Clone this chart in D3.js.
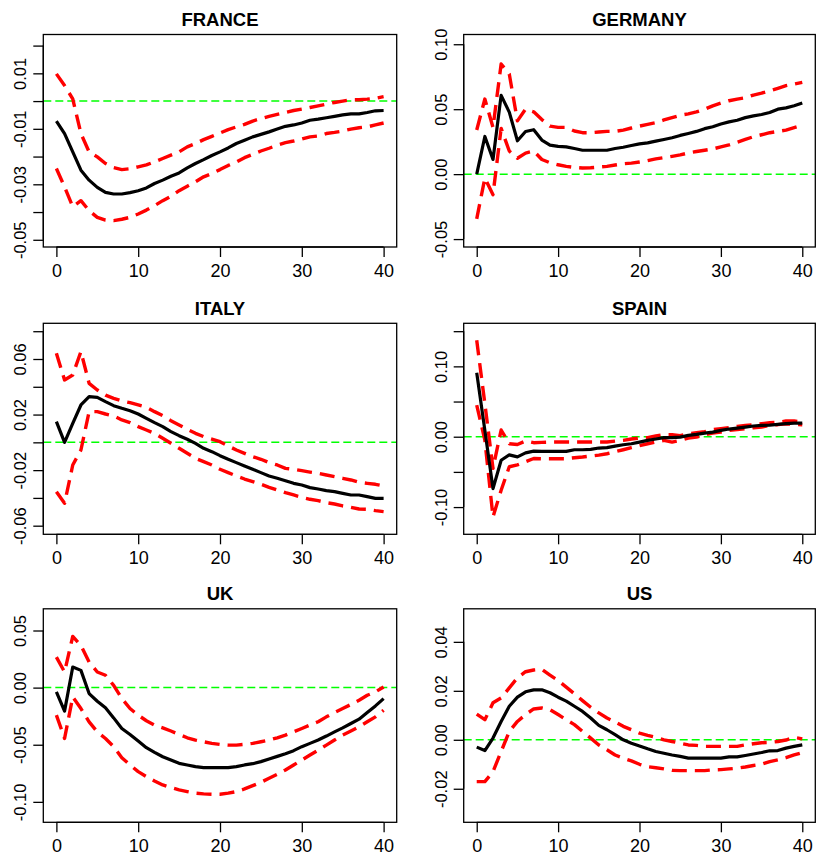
<!DOCTYPE html>
<html>
<head>
<meta charset="utf-8">
<script src="https://cdn.jsdelivr.net/npm/d3@7"></script>
<style>
  body { margin: 0; background: #fff; }
  svg text { font-family: "Liberation Sans", Arial, Helvetica, sans-serif; fill: #000; }
</style>
</head>
<body>
<svg id="chart" width="817" height="863"></svg>
<script>
// Impulse responses over a 40-quarter horizon, with upper/lower confidence bands
const horizons = d3.range(0, 41);
const xTicks = [0, 10, 20, 30, 40];

const franceIrf = [-0.0072,-0.0117,-0.0183,-0.0249,-0.0285,-0.0311,-0.0329,-0.0335,-0.0335,-0.033,-0.0323,-0.0313,-0.0297,-0.0285,-0.0271,-0.0259,-0.0241,-0.0225,-0.0211,-0.0196,-0.0183,-0.0169,-0.0153,-0.0141,-0.0129,-0.012,-0.0111,-0.0101,-0.0091,-0.0086,-0.0079,-0.0069,-0.0065,-0.006,-0.0055,-0.005,-0.0046,-0.0046,-0.0041,-0.0035,-0.0034];
const franceUpper = [0.0098,0.0056,0.0008,-0.0117,-0.0183,-0.0201,-0.0225,-0.024,-0.0247,-0.0244,-0.0237,-0.023,-0.0219,-0.0207,-0.0195,-0.0183,-0.0165,-0.0153,-0.0139,-0.0127,-0.0115,-0.0103,-0.0093,-0.0084,-0.0072,-0.0063,-0.0055,-0.0048,-0.0041,-0.0034,-0.0029,-0.0023,-0.0017,-0.0011,-0.0005,0,0.0005,0.0005,0.0007,0.001,0.0016];
const franceLower = [-0.0243,-0.0309,-0.0381,-0.0359,-0.0395,-0.0419,-0.0429,-0.0431,-0.0426,-0.0419,-0.0407,-0.0393,-0.0377,-0.0359,-0.0343,-0.0323,-0.0307,-0.0291,-0.0273,-0.0261,-0.0247,-0.0232,-0.022,-0.0204,-0.0192,-0.018,-0.017,-0.0159,-0.015,-0.0144,-0.0137,-0.0129,-0.0126,-0.0117,-0.0113,-0.0108,-0.0101,-0.0096,-0.0093,-0.0086,-0.0079];

const germanyIrf = [0,0.029,0.0113,0.0606,0.0477,0.0257,0.0328,0.0342,0.0262,0.0223,0.0214,0.021,0.0197,0.0184,0.0184,0.0184,0.0184,0.0197,0.0207,0.022,0.0233,0.0241,0.0254,0.0267,0.028,0.0298,0.0313,0.0329,0.035,0.0365,0.0386,0.0402,0.0415,0.0435,0.0448,0.0459,0.0474,0.05,0.051,0.0526,0.0547];
const germanyUpper = [0.034,0.0578,0.036,0.0848,0.0771,0.041,0.05,0.048,0.042,0.037,0.036,0.036,0.0332,0.0319,0.0319,0.0324,0.0329,0.0329,0.0339,0.0355,0.037,0.0383,0.0396,0.0417,0.0435,0.0453,0.0464,0.0479,0.05,0.0526,0.0547,0.0565,0.0578,0.0588,0.0609,0.0624,0.0642,0.0661,0.0681,0.0694,0.0707];
const germanyLower = [-0.0344,-0.003,-0.0158,0.0352,0.0178,0.0122,0.0162,0.0178,0.0113,0.0088,0.0072,0.006,0.0052,0.0047,0.0049,0.0054,0.006,0.007,0.008,0.0085,0.0093,0.0104,0.0117,0.0127,0.0137,0.0148,0.0163,0.0174,0.0184,0.0194,0.021,0.0225,0.0246,0.0267,0.0288,0.0303,0.0319,0.0329,0.0339,0.0358,0.0376];

const italyIrf = [0.0149,0,0.0137,0.0269,0.0329,0.0324,0.0293,0.0264,0.0245,0.0228,0.0204,0.0173,0.0142,0.0113,0.0077,0.0048,0.0022,-0.0007,-0.0043,-0.0067,-0.0096,-0.0122,-0.0146,-0.017,-0.0194,-0.0218,-0.0242,-0.0259,-0.0276,-0.0295,-0.0307,-0.0326,-0.0336,-0.0348,-0.0355,-0.0367,-0.0379,-0.0379,-0.0391,-0.0403,-0.0403];
const italyUpper = [0.0641,0.0449,0.0485,0.0653,0.0425,0.0377,0.034,0.0317,0.0298,0.0286,0.0269,0.0252,0.0221,0.0192,0.0156,0.0125,0.0094,0.0065,0.0041,0.0024,0.0005,-0.0026,-0.0055,-0.0079,-0.0103,-0.0122,-0.0146,-0.0163,-0.0187,-0.0194,-0.0204,-0.0214,-0.0223,-0.0235,-0.0247,-0.0259,-0.0271,-0.0288,-0.0295,-0.0302,-0.0314];
const italyLower = [-0.0355,-0.0439,-0.0163,-0.0055,0.0221,0.0221,0.0204,0.019,0.0161,0.0142,0.0113,0.0089,0.0065,0.0029,-0.0007,-0.0043,-0.0079,-0.0115,-0.0139,-0.0163,-0.0194,-0.0218,-0.0242,-0.0264,-0.0283,-0.0302,-0.0324,-0.0343,-0.0362,-0.0379,-0.0396,-0.041,-0.042,-0.0434,-0.0444,-0.0458,-0.0468,-0.048,-0.0482,-0.0492,-0.0499];

const spainIrf = [0.091,0.009,-0.0737,-0.0334,-0.0258,-0.0286,-0.0229,-0.0205,-0.0209,-0.0209,-0.0209,-0.0209,-0.0185,-0.0185,-0.018,-0.0161,-0.0156,-0.0133,-0.0114,-0.01,-0.0076,-0.0052,-0.0033,-0.0014,-0.0014,-0.0005,0.0019,0.0033,0.0052,0.0066,0.009,0.0109,0.0123,0.0137,0.0152,0.0161,0.0166,0.0175,0.0185,0.0194,0.0194];
const spainUpper = [0.137,0.047,-0.045,0.0095,-0.01,-0.011,-0.006,-0.0085,-0.008,-0.0076,-0.0076,-0.0076,-0.0076,-0.0076,-0.0076,-0.0076,-0.0076,-0.0062,-0.0052,-0.0033,-0.0019,-0.0014,0.001,0.0028,0.0028,0.0014,0.0043,0.0057,0.0071,0.01,0.0114,0.0128,0.0147,0.0161,0.0171,0.0185,0.0199,0.0204,0.0223,0.0223,0.0209];
const spainLower = [0.045,-0.005,-0.114,-0.076,-0.0427,-0.04,-0.0355,-0.031,-0.0313,-0.0313,-0.0313,-0.0313,-0.0299,-0.0289,-0.0275,-0.0261,-0.0242,-0.0213,-0.0185,-0.0156,-0.0128,-0.01,-0.0076,-0.0052,-0.0076,-0.0052,-0.0019,-0.0005,0.0028,0.0052,0.0066,0.009,0.01,0.0114,0.0128,0.0137,0.0161,0.0171,0.0185,0.0175,0.0171];

const ukIrf = [-0.0038,-0.0206,0.018,0.0151,-0.0052,-0.0119,-0.0177,-0.0265,-0.0358,-0.041,-0.0468,-0.0526,-0.0567,-0.0605,-0.0634,-0.0663,-0.0677,-0.0692,-0.0701,-0.0701,-0.0701,-0.0701,-0.0692,-0.0677,-0.0666,-0.0648,-0.0625,-0.0602,-0.0578,-0.0552,-0.0517,-0.0488,-0.0459,-0.0424,-0.0387,-0.0352,-0.0314,-0.0276,-0.0218,-0.016,-0.0096];
const ukUpper = [0.0267,0.0137,0.0448,0.0369,0.0224,0.0137,0.0108,0.002,-0.0096,-0.0183,-0.0241,-0.029,-0.0328,-0.0352,-0.038,-0.041,-0.0439,-0.0459,-0.0474,-0.0488,-0.0497,-0.0503,-0.0503,-0.0497,-0.0488,-0.0474,-0.0459,-0.0439,-0.0416,-0.0387,-0.0358,-0.0328,-0.0299,-0.0256,-0.0218,-0.0183,-0.0148,-0.011,-0.0067,-0.0038,0.0006];
const ukLower = [-0.0241,-0.0445,-0.0081,-0.0183,-0.03,-0.0387,-0.0445,-0.0517,-0.0613,-0.0677,-0.0735,-0.0779,-0.0817,-0.0852,-0.0875,-0.0895,-0.091,-0.0924,-0.093,-0.0933,-0.0933,-0.0924,-0.091,-0.0887,-0.0858,-0.0829,-0.0794,-0.0759,-0.0721,-0.0677,-0.0634,-0.059,-0.0547,-0.0503,-0.0459,-0.0416,-0.038,-0.0343,-0.0299,-0.0256,-0.0198];

const usIrf = [-0.003,-0.0044,0.0007,0.0075,0.0137,0.0174,0.0196,0.0204,0.0204,0.0192,0.0174,0.0158,0.0137,0.0116,0.0089,0.0059,0.0041,0.0021,0,-0.0014,-0.0025,-0.0037,-0.0048,-0.0055,-0.0062,-0.0068,-0.0075,-0.0075,-0.0075,-0.0075,-0.0075,-0.007,-0.007,-0.0064,-0.0058,-0.0052,-0.0045,-0.0044,-0.0034,-0.0027,-0.0021];
const usUpper = [0.0105,0.0082,0.0151,0.0171,0.0212,0.0253,0.0278,0.0285,0.0288,0.0264,0.0242,0.0215,0.0188,0.016,0.0133,0.011,0.0089,0.0073,0.0055,0.0041,0.0027,0.0018,0.001,0,-0.0007,-0.0014,-0.0021,-0.0023,-0.0027,-0.0027,-0.0027,-0.0027,-0.0027,-0.0021,-0.0016,-0.0012,-0.0011,-0.0007,-0.0001,0.001,0.0004];
const usLower = [-0.0171,-0.0171,-0.013,-0.0048,0.0034,0.0075,0.0103,0.0126,0.013,0.0123,0.0103,0.0082,0.0062,0.0034,0.0007,-0.0021,-0.0041,-0.0062,-0.0075,-0.0086,-0.01,-0.011,-0.0114,-0.0119,-0.0125,-0.0126,-0.0126,-0.0126,-0.0126,-0.0123,-0.0122,-0.0119,-0.0116,-0.0111,-0.0105,-0.01,-0.0089,-0.0082,-0.0073,-0.0062,-0.0052];

// y-axis tick positions and the labels printed at them ("" = tick without label)
const franceTicks  = [0.02, 0.01, 0, -0.01, -0.02, -0.03, -0.04, -0.05];
const franceLabels = ["", "0.01", "", "-0.01", "", "-0.03", "", "-0.05"];
const germanyTicks  = [0.10, 0.05, 0, -0.05];
const germanyLabels = ["0.10", "0.05", "0.00", "-0.05"];
const italyTicks  = [0.08, 0.06, 0.04, 0.02, 0, -0.02, -0.04, -0.06];
const italyLabels = ["", "0.06", "", "0.02", "", "-0.02", "", "-0.06"];
const spainTicks  = [0.15, 0.10, 0.05, 0, -0.05, -0.10];
const spainLabels = ["", "0.10", "", "0.00", "", "-0.10"];
const ukTicks  = [0.05, 0, -0.05, -0.10];
const ukLabels = ["0.05", "0.00", "-0.05", "-0.10"];
const usTicks  = [0.04, 0.02, 0, -0.02];
const usLabels = ["0.04", "0.02", "0.00", "-0.02"];

// y-axis limits of each panel
const franceLimits  = [-0.0526, 0.0240];
const germanyLimits = [-0.0561, 0.1075];
const italyLimits   = [-0.0662, 0.0857];
const spainLimits   = [-0.1387, 0.1612];
const ukLimits      = [-0.1179, 0.0690];
const usLimits      = [-0.0337, 0.0535];

const panels = [
  { title: "FRANCE",  irf: franceIrf,  up: franceUpper,  lo: franceLower,  ticks: franceTicks,  labels: franceLabels,  lim: franceLimits },
  { title: "GERMANY", irf: germanyIrf, up: germanyUpper, lo: germanyLower, ticks: germanyTicks, labels: germanyLabels, lim: germanyLimits },
  { title: "ITALY",   irf: italyIrf,   up: italyUpper,   lo: italyLower,   ticks: italyTicks,   labels: italyLabels,   lim: italyLimits },
  { title: "SPAIN",   irf: spainIrf,   up: spainUpper,   lo: spainLower,   ticks: spainTicks,   labels: spainLabels,   lim: spainLimits },
  { title: "UK",      irf: ukIrf,      up: ukUpper,      lo: ukLower,      ticks: ukTicks,      labels: ukLabels,      lim: ukLimits },
  { title: "US",      irf: usIrf,      up: usUpper,      lo: usLower,      ticks: usTicks,      labels: usLabels,      lim: usLimits }
];

// plot-region frames: columns (left/right edges) and rows (top/bottom edges)
const colEdges = [[43.3, 396.7], [463.7, 815.3]];
const rowEdges = [[34.5, 247], [323.3, 534.3], [608.8, 822.3]];

const svg = d3.select("#chart");
const tickLen = 10;

panels.forEach((p, i) => {
  const [x0, x1] = colEdges[i % 2];
  const [y0, y1] = rowEdges[Math.floor(i / 2)];

  // R-style 4% padding around the 0..40 horizon
  const x = d3.scaleLinear().domain([-1.6, 41.6]).range([x0, x1]);
  const y = d3.scaleLinear().domain(p.lim).range([y1, y0]);

  const g = svg.append("g");
  const clipId = "clip" + i;
  g.append("clipPath").attr("id", clipId)
    .append("rect").attr("x", x0).attr("y", y0).attr("width", x1 - x0).attr("height", y1 - y0);

  const plot = g.append("g").attr("clip-path", `url(#${clipId})`);

  // zero reference line
  plot.append("line")
    .attr("x1", x0).attr("x2", x1)
    .attr("y1", y(0)).attr("y2", y(0))
    .attr("stroke", "#00ff00").attr("stroke-width", 1.5)
    .attr("stroke-dasharray", "8,4");

  const line = d3.line().x((d, k) => x(horizons[k])).y(d => y(d));

  // confidence bands
  [p.up, p.lo].forEach(band => {
    plot.append("path").datum(band)
      .attr("d", line)
      .attr("fill", "none").attr("stroke", "#ff0000")
      .attr("stroke-width", 3.4).attr("stroke-dasharray", "15,8")
      .attr("stroke-linejoin", "round");
  });

  // point estimate
  plot.append("path").datum(p.irf)
    .attr("d", line)
    .attr("fill", "none").attr("stroke", "#000")
    .attr("stroke-width", 3.2).attr("stroke-linejoin", "round");

  // frame
  g.append("rect")
    .attr("x", x0).attr("y", y0).attr("width", x1 - x0).attr("height", y1 - y0)
    .attr("fill", "none").attr("stroke", "#000").attr("stroke-width", 1.3);

  // x axis
  const xAxis = d3.axisBottom(x).tickValues(xTicks).tickSize(tickLen).tickPadding(7).tickFormat(d3.format("d"));
  const gx = g.append("g").attr("transform", `translate(0,${y1})`).call(xAxis);
  gx.select(".domain").attr("d", `M${x(0)},0H${x(40)}`).attr("stroke-width", 1.3);
  gx.selectAll(".tick line").attr("stroke-width", 1.3);
  gx.selectAll(".tick text").attr("font-size", 18).attr("dy", "0.71em");

  // y axis
  const yAxis = d3.axisLeft(y).tickValues(p.ticks).tickSize(tickLen)
    .tickFormat((d, k) => p.labels[k]);
  const gy = g.append("g").attr("transform", `translate(${x0},0)`).call(yAxis);
  gy.select(".domain")
    .attr("d", `M0,${y(d3.max(p.ticks))}V${y(d3.min(p.ticks))}`).attr("stroke-width", 1.3);
  gy.selectAll(".tick line").attr("stroke-width", 1.3);
  gy.selectAll(".tick text")
    .attr("font-size", 16.5)
    .attr("x", null).attr("dy", null)
    .attr("text-anchor", "middle")
    .attr("dominant-baseline", "central")
    .attr("transform", "translate(-23,0) rotate(-90)");

  // panel title
  g.append("text")
    .attr("x", (x0 + x1) / 2).attr("y", y0 - 8.5)
    .attr("text-anchor", "middle")
    .attr("font-size", 18.5).attr("font-weight", "bold")
    .text(p.title);
});
</script>
</body>
</html>
